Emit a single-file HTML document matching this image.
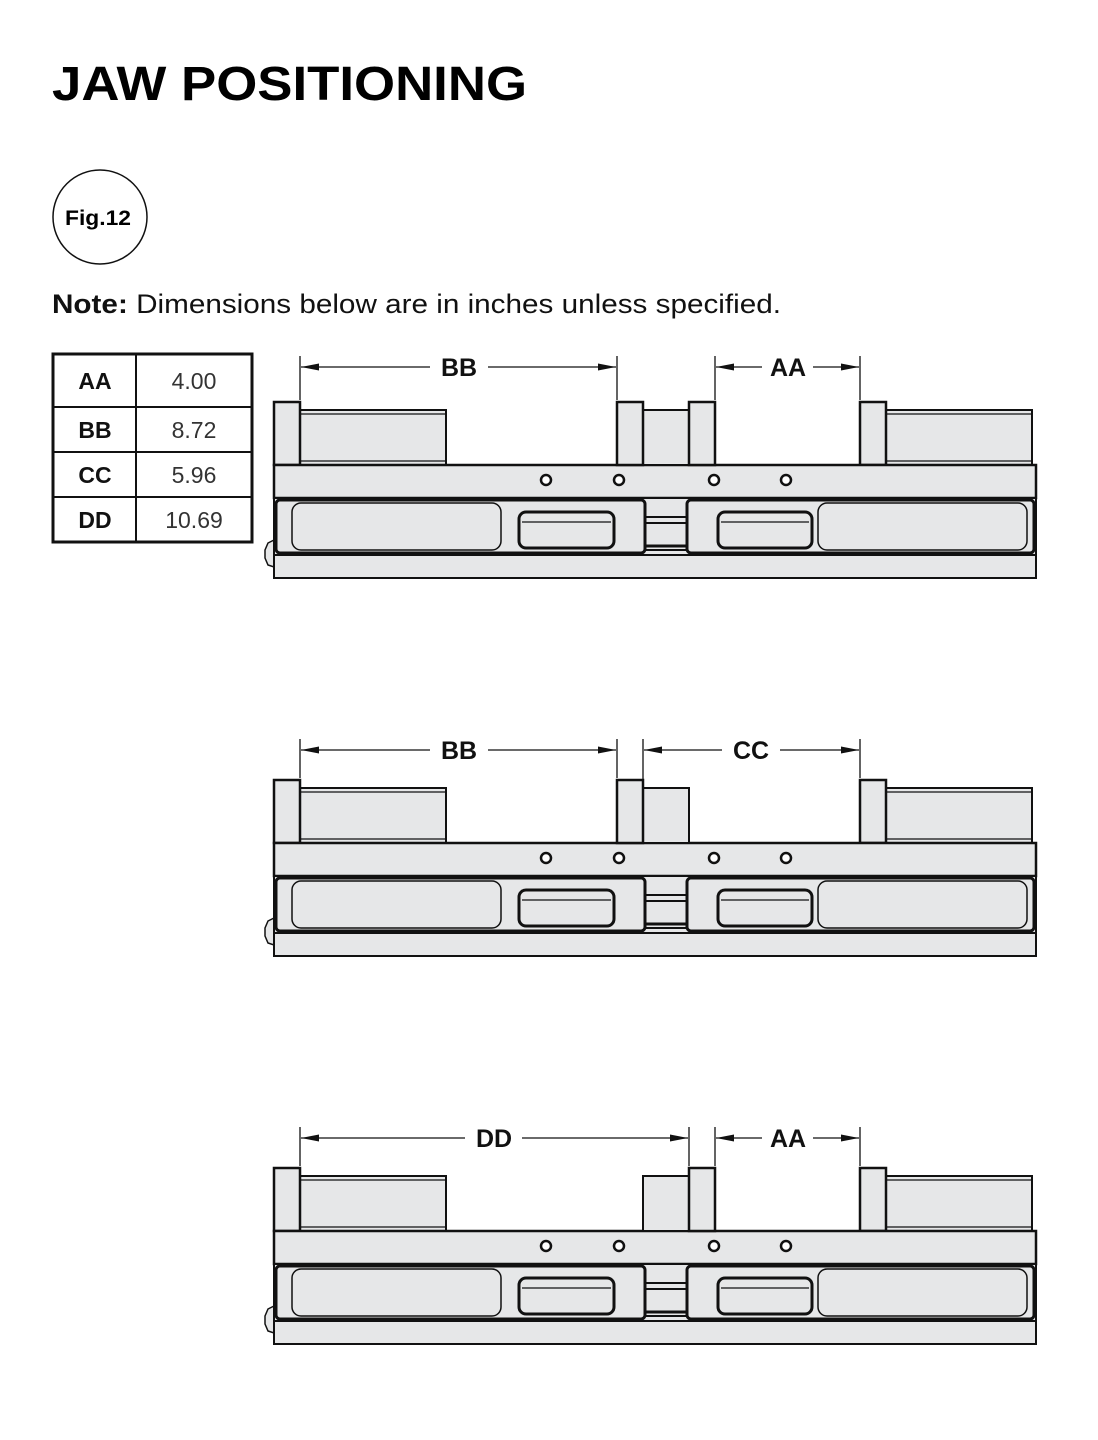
<!DOCTYPE html>
<html><head><meta charset="utf-8"><style>
html,body{margin:0;padding:0;background:#fff;}
svg{display:block;}
text{font-family:"Liberation Sans",sans-serif;}
</style></head><body>
<svg width="1098" height="1440" viewBox="0 0 1098 1440" xmlns="http://www.w3.org/2000/svg">
<defs>
<marker id="ar" viewBox="0 0 18 8" refX="18" refY="4" markerWidth="18" markerHeight="8" markerUnits="userSpaceOnUse" orient="auto-start-reverse"><path d="M0,0.5 L18,4 L0,7.5 z" fill="#111"/></marker>
<g id="vise" stroke="#111" fill="#e6e7e8">
  <rect x="300" y="410" width="146" height="55" stroke-width="2"/>
  <line x1="300" y1="414" x2="446" y2="414" stroke-width="1.2"/>
  <line x1="300" y1="461" x2="446" y2="461" stroke-width="1.2"/>
  <rect x="274" y="402" width="26" height="63" stroke-width="2.5"/>
  <rect x="886" y="410" width="146" height="55" stroke-width="2"/>
  <line x1="886" y1="414" x2="1032" y2="414" stroke-width="1.2"/>
  <line x1="886" y1="461" x2="1032" y2="461" stroke-width="1.2"/>
  <rect x="860" y="402" width="26" height="63" stroke-width="2.5"/>
  <path d="M274,540 L268,543 L265,550 L265,558 L268,565 L274,567 z" stroke-width="1.5"/>
  <rect x="274" y="465" width="762" height="33" stroke-width="2.5"/>
  <rect x="274" y="498" width="762" height="57" stroke-width="2"/>
  <rect x="642" y="517" width="48" height="33" stroke-width="2"/>
  <line x1="642" y1="523" x2="690" y2="523" stroke-width="2"/>
  <line x1="642" y1="546" x2="690" y2="546" stroke-width="3"/>
  <rect x="276" y="500" width="369" height="53" rx="4" stroke-width="3"/>
  <rect x="687" y="500" width="347" height="53" rx="4" stroke-width="3"/>
  <rect x="292" y="503" width="209" height="47" rx="9" stroke-width="1.5"/>
  <rect x="818" y="503" width="209" height="47" rx="9" stroke-width="1.5"/>
  <rect x="519" y="512" width="95" height="36" rx="7" stroke-width="3"/>
  <line x1="522" y1="522" x2="611" y2="522" stroke-width="1.2"/>
  <rect x="718" y="512" width="94" height="36" rx="7" stroke-width="3"/>
  <line x1="721" y1="522" x2="809" y2="522" stroke-width="1.2"/>
  <rect x="274" y="555" width="762" height="23" stroke-width="2"/>
  <g fill="#fff" stroke-width="2.5">
    <circle cx="546" cy="480" r="5"/><circle cx="619" cy="480" r="5"/>
    <circle cx="714" cy="480" r="5"/><circle cx="786" cy="480" r="5"/>
  </g>
</g>
</defs>

<text x="52" y="100" font-size="48" font-weight="bold" textLength="475" lengthAdjust="spacingAndGlyphs">JAW POSITIONING</text>
<circle cx="100" cy="217" r="47" fill="none" stroke="#111" stroke-width="1.5"/>
<text x="98" y="225" font-size="21" font-weight="bold" text-anchor="middle" textLength="66" lengthAdjust="spacingAndGlyphs">Fig.12</text>
<text x="52" y="313" font-size="27" fill="#111" textLength="729" lengthAdjust="spacingAndGlyphs"><tspan font-weight="bold">Note:</tspan> Dimensions below are in inches unless specified.</text>

<g stroke="#111" fill="none">
  <rect x="53" y="354" width="199" height="188" stroke-width="3"/>
  <line x1="136" y1="354" x2="136" y2="542" stroke-width="2"/>
  <line x1="53" y1="407" x2="252" y2="407" stroke-width="2"/>
  <line x1="53" y1="452" x2="252" y2="452" stroke-width="2"/>
  <line x1="53" y1="497" x2="252" y2="497" stroke-width="2"/>
</g>
<g font-size="23" text-anchor="middle" fill="#111">
  <text x="95" y="389" font-weight="bold">AA</text><text x="194" y="389" fill="#333">4.00</text>
  <text x="95" y="438" font-weight="bold">BB</text><text x="194" y="438" fill="#333">8.72</text>
  <text x="95" y="483" font-weight="bold">CC</text><text x="194" y="483" fill="#333">5.96</text>
  <text x="95" y="528" font-weight="bold">DD</text><text x="194" y="528" fill="#333">10.69</text>
</g>

<g>
  <use href="#vise"/>
  <rect x="643" y="410" width="46" height="55" fill="#e6e7e8" stroke="#111" stroke-width="2"/>
  <rect x="617" y="402" width="26" height="63" fill="#e6e7e8" stroke="#111" stroke-width="2.5"/>
  <rect x="689" y="402" width="26" height="63" fill="#e6e7e8" stroke="#111" stroke-width="2.5"/>
</g>
<g transform="translate(0,378)">
  <use href="#vise"/>
  <rect x="643" y="410" width="46" height="55" fill="#e6e7e8" stroke="#111" stroke-width="2"/>
  <rect x="617" y="402" width="26" height="63" fill="#e6e7e8" stroke="#111" stroke-width="2.5"/>
</g>
<g transform="translate(0,766)">
  <use href="#vise"/>
  <rect x="643" y="410" width="46" height="55" fill="#e6e7e8" stroke="#111" stroke-width="2"/>
  <rect x="689" y="402" width="26" height="63" fill="#e6e7e8" stroke="#111" stroke-width="2.5"/>
</g>

<g stroke="#111" stroke-width="1.3" fill="none">
  <line x1="300" y1="356" x2="300" y2="400"/><line x1="617" y1="356" x2="617" y2="400"/>
  <line x1="715" y1="356" x2="715" y2="400"/><line x1="860" y1="356" x2="860" y2="400"/>
  <line x1="301" y1="367" x2="430" y2="367" marker-start="url(#ar)"/><line x1="488" y1="367" x2="616" y2="367" marker-end="url(#ar)"/>
  <line x1="716" y1="367" x2="762" y2="367" marker-start="url(#ar)"/><line x1="813" y1="367" x2="859" y2="367" marker-end="url(#ar)"/>
  <line x1="300" y1="739" x2="300" y2="778"/><line x1="617" y1="739" x2="617" y2="778"/>
  <line x1="643" y1="739" x2="643" y2="786"/><line x1="860" y1="739" x2="860" y2="778"/>
  <line x1="301" y1="750" x2="430" y2="750" marker-start="url(#ar)"/><line x1="488" y1="750" x2="616" y2="750" marker-end="url(#ar)"/>
  <line x1="644" y1="750" x2="722" y2="750" marker-start="url(#ar)"/><line x1="780" y1="750" x2="859" y2="750" marker-end="url(#ar)"/>
  <line x1="300" y1="1127" x2="300" y2="1166"/><line x1="689" y1="1127" x2="689" y2="1166"/>
  <line x1="715" y1="1127" x2="715" y2="1166"/><line x1="860" y1="1127" x2="860" y2="1166"/>
  <line x1="301" y1="1138" x2="465" y2="1138" marker-start="url(#ar)"/><line x1="522" y1="1138" x2="688" y2="1138" marker-end="url(#ar)"/>
  <line x1="716" y1="1138" x2="762" y2="1138" marker-start="url(#ar)"/><line x1="813" y1="1138" x2="859" y2="1138" marker-end="url(#ar)"/>
</g>
<g font-size="25" font-weight="bold" text-anchor="middle" fill="#111">
  <text x="459" y="376">BB</text><text x="788" y="376">AA</text>
  <text x="459" y="759">BB</text><text x="751" y="759">CC</text>
  <text x="494" y="1147">DD</text><text x="788" y="1147">AA</text>
</g>
</svg>
</body></html>
